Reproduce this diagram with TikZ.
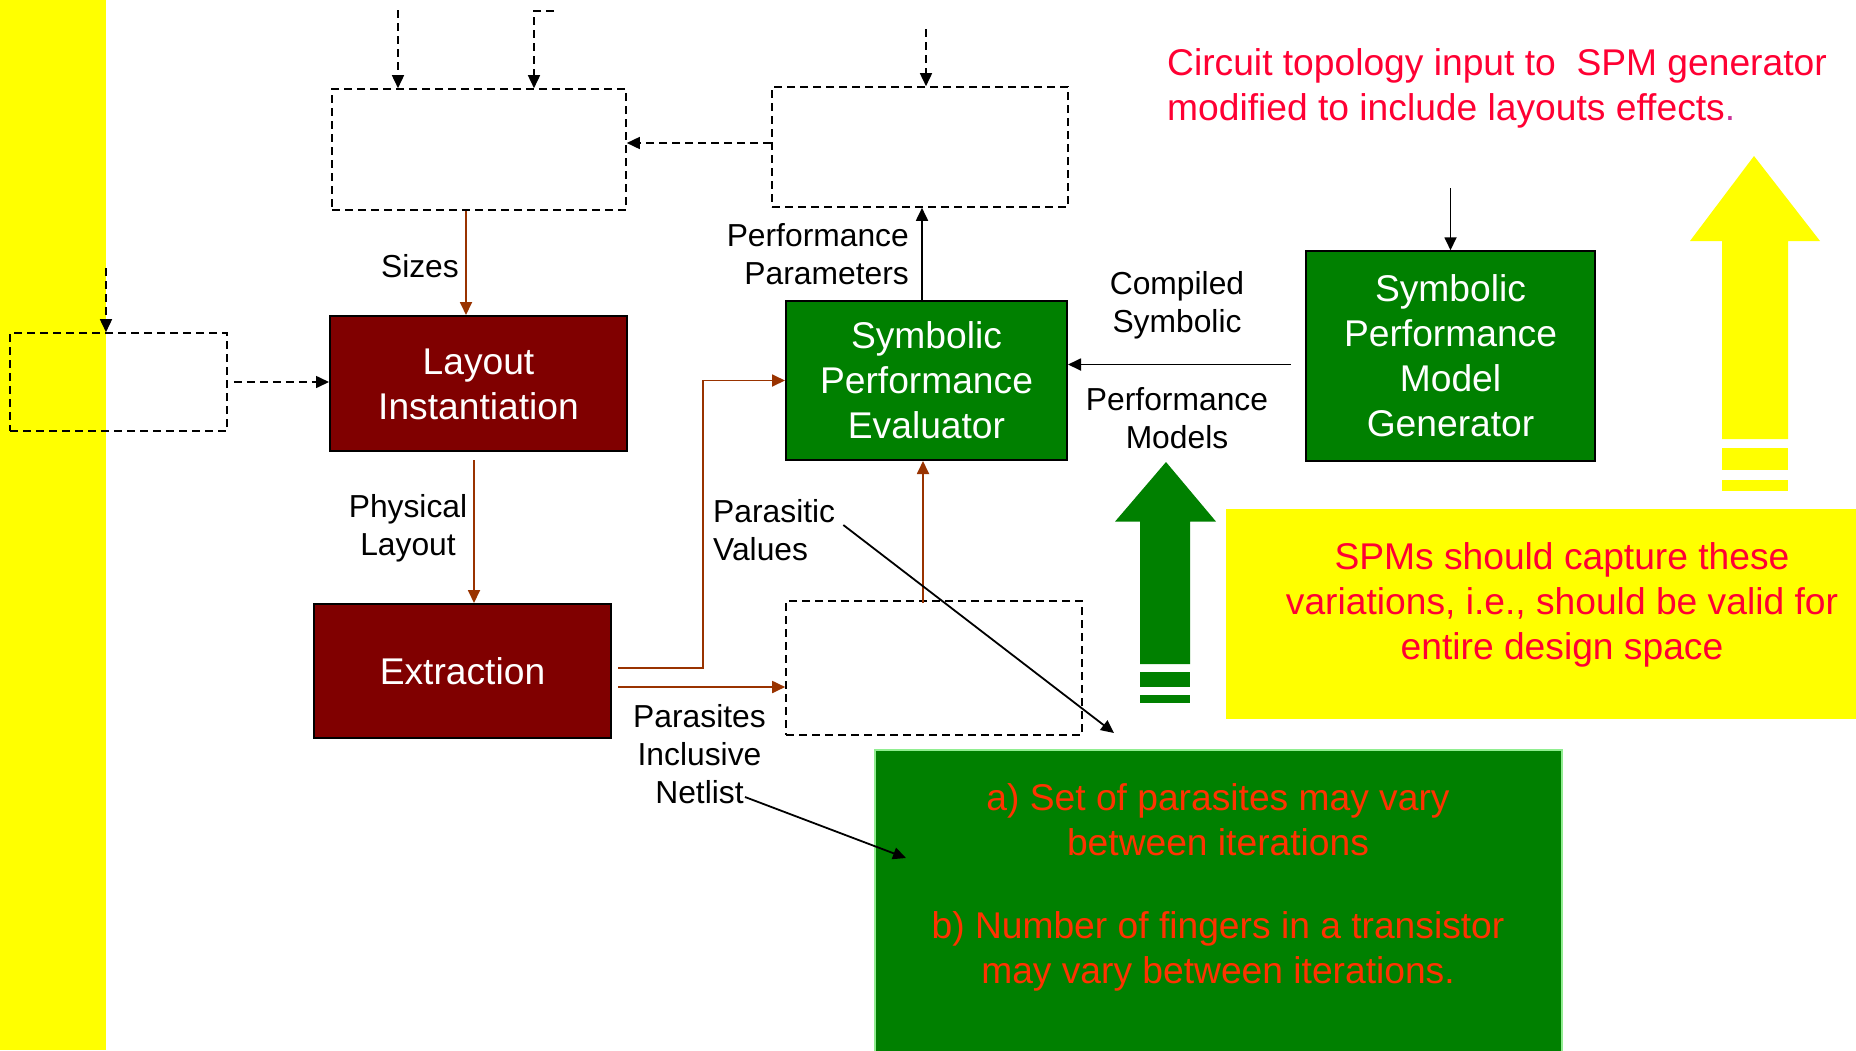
\documentclass[tikz,border=0pt]{standalone}
\usepackage{fontspec}
\setmainfont{Liberation Sans}
\usetikzlibrary{arrows.meta,calc}

\definecolor{boxred}{RGB}{128,0,0}
\definecolor{boxgreen}{RGB}{0,128,0}
\definecolor{wire}{RGB}{153,51,0}
\definecolor{notered}{RGB}{255,0,51}
\definecolor{noteorange}{RGB}{255,51,0}
\definecolor{hilite}{RGB}{255,255,0}
\definecolor{dotpink}{RGB}{204,51,153}
\definecolor{paleedge}{RGB}{144,238,144}

\newcommand\bigfont{\fontsize{37.2}{45}\selectfont}
\newcommand\labfont{\fontsize{31.8}{38}\selectfont}
% stacked lines; the baseline of the stack is that of its first line
\newcommand\stackc[1]{\begin{tabular}[t]{@{}c@{}}#1\end{tabular}}
\newcommand\stackl[1]{\begin{tabular}[t]{@{}l@{}}#1\end{tabular}}
\newcommand\stackr[1]{\begin{tabular}[t]{@{}r@{}}#1\end{tabular}}
% text inside the process boxes, with a taller first strut so it sits optically centred
\newcommand\boxlines[1]{\begin{tabular}[t]{@{}c@{}}\rule{0pt}{39.5pt}#1\end{tabular}}

\tikzset{
  procbox/.style={draw=black, line width=2pt, text=white, font=\bigfont, inner sep=0pt},
  redbox/.style={procbox, fill=boxred},
  greenbox/.style={procbox, fill=boxgreen},
  ghostbox/.style={draw=black, line width=1.6pt, dash pattern=on 8pt off 5pt, inner sep=0pt},
  lab/.style={font=\labfont, inner sep=0pt, text=black},
  tipped/.style={-{Triangle[length=13pt,width=12pt]}},
  flow/.style={tipped, draw=wire, line width=1.8pt},
  dflow/.style={tipped, line width=1.6pt, dash pattern=on 8pt off 5pt},
  sflow/.style={tipped, line width=1.8pt},
}

\begin{document}
\begin{tikzpicture}[x=1pt,y=-1pt]
\useasboundingbox (0,0) rectangle (1856,1050);
\fill[white] (0,0) rectangle (1856,1050);

% left highlight band
\fill[hilite] (0,0) rectangle (106,1050);

% yellow note and block arrows
\node[fill=hilite, minimum width=672pt, minimum height=210pt, inner sep=0pt] (spmnote) at (1562,614) {};
\fill[boxgreen] (1166,462) -- (1216,521.6) -- (1190,521.6) -- (1190,664) -- (1140,664)
  -- (1140,521.6) -- (1115,521.6) -- cycle;
\fill[boxgreen] (1140,672) rectangle (1190,687);
\fill[boxgreen] (1140,695) rectangle (1190,702.5);
\fill[hilite] (1754,156) -- (1820,241) -- (1788,241) -- (1788,439) -- (1722,439)
  -- (1722,241) -- (1690,241) -- cycle;
\fill[hilite] (1722,448) rectangle (1788,470);
\fill[hilite] (1722,479.5) rectangle (1788,491);

% green note
\node[fill=boxgreen, draw=paleedge, line width=1.5pt, minimum width=687pt, minimum height=310pt,
  inner sep=0pt] (varbox) at (1218.5,905) {};

% dashed placeholder boxes
\node[ghostbox, minimum width=294pt, minimum height=121pt] (A) at (479,149.5) {};
\node[ghostbox, minimum width=296pt, minimum height=120pt] (B) at (920,147) {};
\node[ghostbox, minimum width=217pt, minimum height=98pt] (C) at (118.5,382) {};
\node[ghostbox, minimum width=296pt, minimum height=134pt] (D) at (934,668) {};

% process boxes
\node[redbox, minimum width=297pt, minimum height=135pt] (L) at (478.5,383.5) {\boxlines{Layout\\Instantiation}};
\node[redbox, minimum width=297pt, minimum height=134pt] (X) at (462.5,671) {\boxlines{Extraction}};
\node[greenbox, minimum width=281pt, minimum height=159pt] (E) at (926.5,380.5) {\boxlines{Symbolic\\Performance\\Evaluator}};
\node[greenbox, minimum width=289pt, minimum height=209.5pt] (G) at (1450.5,356) {\boxlines{Symbolic\\Performance\\Model\\Generator}};

% free ends of the incoming connectors
\coordinate (inA1) at (398,10);
\coordinate (inA2s) at (554,11);
\coordinate (inA2) at (534,11);
\coordinate (inB) at (926,29);
\coordinate (inC) at (106,268);
\coordinate (inG) at (1450.5,188);

% dashed connectors
\draw[dflow] (inA1) -- (inA1 |- A.north);
\draw[dflow] (inA2s) -- (inA2) -- (inA2 |- A.north);
\draw[dflow] (inB) -- (inB |- B.north);
\draw[dflow] (inC) -- (inC |- C.north);
\draw[dflow] ([yshift=4pt]B.west) coordinate (ba) -- (ba -| A.east);
\draw[dflow] ([xshift=6pt]C.east) coordinate (cl) -- (cl -| L.west);

% solid black connectors
\draw[sflow] (inG) -- (G.north);
\draw[sflow] ([xshift=-14.4pt,yshift=-8.5pt]G.west) coordinate (ge) -- (ge -| E.east);
\draw[sflow] ([xshift=-4.5pt]E.north) coordinate (eb) -- (eb |- B.south);

% data flow wires
\draw[flow] ([xshift=-13pt]A.south) coordinate (as) -- (as |- L.north);
\draw[flow] ([xshift=-4.5pt,yshift=-8pt]L.south) coordinate (ls) -- (ls |- X.north);
\draw[flow] ([xshift=6pt,yshift=3pt]X.east) coordinate (x1) -- ++(85,0) |- (E.west);
\draw[flow] ([xshift=6pt,yshift=-16pt]X.east) coordinate (x2) -- (x2 -| D.west);
\draw[flow] ([xshift=-11pt,yshift=-3pt]D.north) coordinate (dt) -- (dt |- E.south);

% labels
\node[lab, anchor=base east] (sizes) at (459,277) {Sizes};
\node[lab, anchor=base east] (perfpar) at (909,246) {\stackr{Performance\\Parameters}};
\node[lab, anchor=base] (phys) at (408,517) {\stackc{Physical\\Layout}};
\node[lab, anchor=base west] (pv) at (713,522) {\stackl{Parasitic\\Values}};
\node[lab, anchor=base] (pin) at (699.5,727) {\stackc{Parasites\\Inclusive\\Netlist}};
\node[lab, anchor=base] (csym) at (1177,294) {\stackc{Compiled\\Symbolic}};
\node[lab, anchor=base] (pmod) at (1177,410) {\stackc{Performance\\Models}};

% pointers from the labels to the notes
\coordinate (pvEnd) at (1114,733);
\coordinate (nlStart) at (745,797);
\coordinate (nlEnd) at (906,858);
\draw[sflow] ([xshift=8pt,yshift=-3pt]pv.base east) -- (pvEnd);
\draw[sflow] (nlStart) -- (nlEnd);

% note texts
\node[font=\bigfont, text=notered, anchor=base west, inner sep=0pt] (topo) at (1167,75)
  {\stackl{Circuit topology input to\ \ SPM generator\\modified to include layouts effects{\color{dotpink}.}}};
\node[font=\bigfont, text=notered, anchor=base, inner sep=0pt] (spmtext) at (1562,569.5)
  {\stackc{SPMs should capture these\\variations, i.e., should be valid for\\entire design space}};
\node[font=\bigfont, text=noteorange, anchor=base, inner sep=0pt] (vartext) at (1218,810)
  {\stackc{a) Set of parasites may vary\\between iterations\\[38pt]b) Number of fingers in a transistor\\may vary between iterations.}};
\end{tikzpicture}
\end{document}
